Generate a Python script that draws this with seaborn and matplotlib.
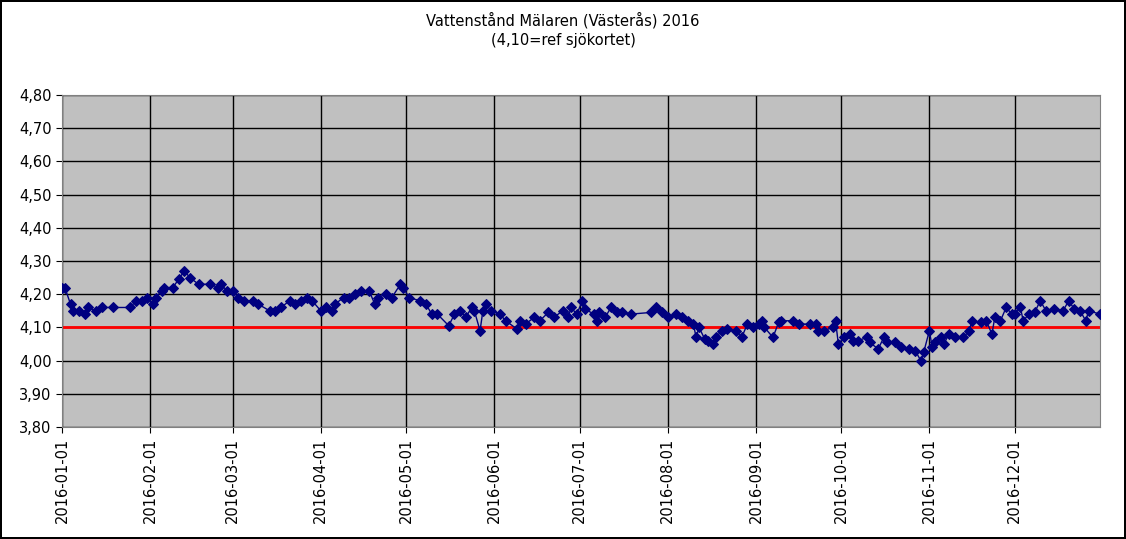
import matplotlib
matplotlib.use("Agg")
import matplotlib.pyplot as plt
import matplotlib.dates as mdates
import matplotlib.ticker as mticker
import pandas as pd
import seaborn as sns

# Vattenstånd readings
dates = [
    "2016-01-01", "2016-01-02", "2016-01-04", "2016-01-05", "2016-01-07", "2016-01-09",
    "2016-01-10", "2016-01-13", "2016-01-15", "2016-01-19", "2016-01-25", "2016-01-27",
    "2016-01-29", "2016-01-31", "2016-02-02", "2016-02-03", "2016-02-05", "2016-02-06",
    "2016-02-09", "2016-02-11", "2016-02-13", "2016-02-15", "2016-02-18", "2016-02-22",
    "2016-02-25", "2016-02-26", "2016-02-28", "2016-03-01", "2016-03-03", "2016-03-05",
    "2016-03-08", "2016-03-10", "2016-03-14", "2016-03-16", "2016-03-18", "2016-03-21",
    "2016-03-23", "2016-03-25", "2016-03-27", "2016-03-29", "2016-04-01", "2016-04-03",
    "2016-04-05", "2016-04-06", "2016-04-09", "2016-04-11", "2016-04-13", "2016-04-15",
    "2016-04-18", "2016-04-20", "2016-04-21", "2016-04-24", "2016-04-26", "2016-04-29",
    "2016-04-30", "2016-05-02", "2016-05-06", "2016-05-08", "2016-05-10", "2016-05-12",
    "2016-05-16", "2016-05-18", "2016-05-20", "2016-05-22", "2016-05-24", "2016-05-25",
    "2016-05-27", "2016-05-28", "2016-05-29", "2016-05-31", "2016-06-03", "2016-06-05",
    "2016-06-09", "2016-06-10", "2016-06-12", "2016-06-15", "2016-06-17", "2016-06-20",
    "2016-06-22", "2016-06-25", "2016-06-27", "2016-06-28", "2016-06-30", "2016-07-02",
    "2016-07-03", "2016-07-06", "2016-07-07", "2016-07-08", "2016-07-10", "2016-07-12",
    "2016-07-14", "2016-07-16", "2016-07-19", "2016-07-26", "2016-07-28", "2016-07-30",
    "2016-08-01", "2016-08-04", "2016-08-06", "2016-08-08", "2016-08-10", "2016-08-11",
    "2016-08-12", "2016-08-14", "2016-08-15", "2016-08-17", "2016-08-18", "2016-08-20",
    "2016-08-22", "2016-08-25", "2016-08-27", "2016-08-29", "2016-08-31", "2016-09-02",
    "2016-09-03", "2016-09-04", "2016-09-07", "2016-09-09", "2016-09-10", "2016-09-14",
    "2016-09-16", "2016-09-20", "2016-09-22", "2016-09-23", "2016-09-25", "2016-09-28",
    "2016-09-29", "2016-09-30", "2016-10-02", "2016-10-04", "2016-10-05", "2016-10-07",
    "2016-10-10", "2016-10-11", "2016-10-14", "2016-10-16", "2016-10-17", "2016-10-20",
    "2016-10-22", "2016-10-25", "2016-10-27", "2016-10-29", "2016-10-30", "2016-11-01",
    "2016-11-02", "2016-11-03", "2016-11-05", "2016-11-06", "2016-11-08", "2016-11-10",
    "2016-11-13", "2016-11-15", "2016-11-16", "2016-11-19", "2016-11-21", "2016-11-23",
    "2016-11-24", "2016-11-26", "2016-11-28", "2016-11-30", "2016-12-01", "2016-12-03",
    "2016-12-04", "2016-12-06", "2016-12-08", "2016-12-10", "2016-12-12", "2016-12-15",
    "2016-12-18", "2016-12-20", "2016-12-22", "2016-12-24", "2016-12-26", "2016-12-27",
    "2016-12-31",
]
levels = [
    4.22, 4.22, 4.17, 4.15, 4.15, 4.14,
    4.16, 4.15, 4.16, 4.16, 4.16, 4.18,
    4.18, 4.19, 4.17, 4.19, 4.21, 4.22,
    4.22, 4.245, 4.27, 4.25, 4.23, 4.23,
    4.22, 4.23, 4.21, 4.21, 4.19, 4.18,
    4.18, 4.17, 4.15, 4.15, 4.16, 4.18,
    4.17, 4.18, 4.19, 4.18, 4.15, 4.16,
    4.15, 4.17, 4.19, 4.19, 4.20, 4.21,
    4.21, 4.17, 4.19, 4.20, 4.19, 4.23,
    4.22, 4.19, 4.18, 4.17, 4.14, 4.14,
    4.105, 4.14, 4.15, 4.13, 4.16, 4.15,
    4.09, 4.15, 4.17, 4.15, 4.14, 4.12,
    4.095, 4.12, 4.11, 4.13, 4.12, 4.145,
    4.13, 4.15, 4.13, 4.16, 4.14, 4.18,
    4.155, 4.14, 4.12, 4.145, 4.13, 4.16,
    4.145, 4.145, 4.14, 4.145, 4.16, 4.145,
    4.13, 4.14, 4.13, 4.12, 4.11, 4.07,
    4.10, 4.065, 4.06, 4.05, 4.07, 4.09,
    4.095, 4.09, 4.07, 4.11, 4.10, 4.11,
    4.12, 4.10, 4.07, 4.115, 4.12, 4.12,
    4.11, 4.11, 4.11, 4.09, 4.09, 4.10,
    4.12, 4.05, 4.07, 4.08, 4.06, 4.06,
    4.07, 4.055, 4.035, 4.07, 4.055, 4.055,
    4.04, 4.035, 4.03, 4.00, 4.025, 4.09,
    4.04, 4.055, 4.07, 4.05, 4.08, 4.07,
    4.07, 4.09, 4.12, 4.115, 4.12, 4.08,
    4.13, 4.12, 4.16, 4.14, 4.14, 4.16,
    4.12, 4.14, 4.145, 4.18, 4.15, 4.155,
    4.15, 4.18, 4.155, 4.15, 4.12, 4.15,
    4.14,
]
ref_level = 4.10
y_ticks = [3.80, 3.90, 4.00, 4.10, 4.20, 4.30, 4.40, 4.50, 4.60, 4.70, 4.80]

df = pd.DataFrame({"date": pd.to_datetime(dates), "level": levels})

fig = plt.figure(figsize=(11.26, 5.39), dpi=100)
fig.patch.set_edgecolor("black")
fig.patch.set_linewidth(1.5)
ax = fig.add_axes([62 / 1126, 1 - 427 / 539, (1100 - 62) / 1126, (427 - 95) / 539])
ax.set_facecolor("#C0C0C0")

sns.lineplot(data=df, x="date", y="level", ax=ax, color="#000080", lw=1,
             marker="D", markersize=5, markeredgecolor="#000080", zorder=3)
ax.axhline(ref_level, color="red", lw=2, zorder=2)

ax.set_xlim(pd.Timestamp("2016-01-01"), pd.Timestamp("2016-12-31"))
ax.set_ylim(3.80, 4.80)
ax.set_yticks(y_ticks)
ax.yaxis.set_major_formatter(mticker.FuncFormatter(lambda v, _: f"{v:.2f}".replace(".", ",")))
ax.xaxis.set_major_locator(mdates.MonthLocator())
ax.xaxis.set_major_formatter(mdates.DateFormatter("%Y-%m-%d"))
plt.setp(ax.get_xticklabels(), rotation=90)
ax.tick_params(labelsize=10.5, length=4, direction="out", colors="black")
ax.grid(True, color="black", lw=1)
ax.set_axisbelow(True)
for s in ax.spines.values():
    s.set_color("#808080")
ax.set_xlabel("")
ax.set_ylabel("")

fig.text(0.5, 1 - 30 / 539, "Vattenstånd Mälaren (Västerås) 2016\n(4,10=ref sjökortet)",
         ha="center", va="center", fontsize=10.5, linespacing=1.3)

fig.savefig("out.png", dpi=100)
